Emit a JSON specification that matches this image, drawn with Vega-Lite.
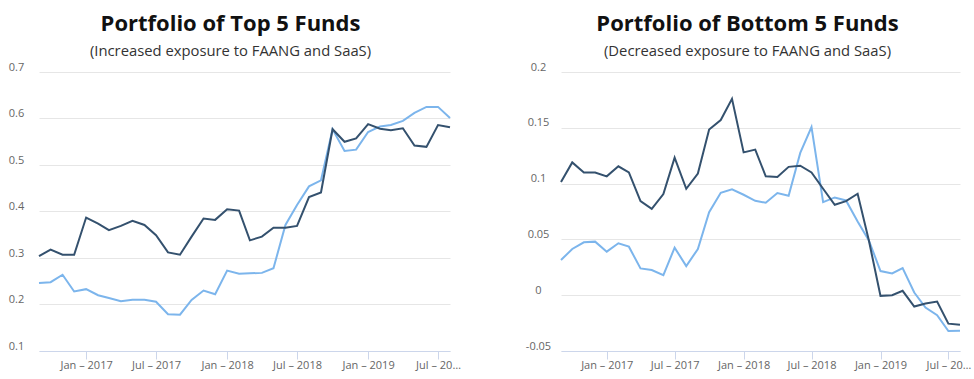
{
  "$schema": "https://vega.github.io/schema/vega-lite/v6.json",
  "background": "white",
  "padding": {"left": 8, "top": 13, "right": 4, "bottom": 4},
  "bounds": "flush",
  "spacing": 111,
  "config": {
    "view": {"stroke": null},
    "font": "Open Sans",
    "title": {"font": "Open Sans", "fontSize": 22, "fontWeight": "bold", "color": "#111111", "subtitleFont": "Open Sans", "subtitleFontSize": 14.8, "subtitleColor": "#333333", "subtitlePadding": 8, "anchor": "middle", "frame": "group", "offset": 1},
    "axis": {"labelFont": "Open Sans", "labelFontSize": 11, "labelColor": "#666666", "title": null},
    "axisX": {"grid": false, "domainColor": "#ccd6eb", "domainWidth": 1, "tickColor": "#ccd6eb", "tickSize": 8, "labelPadding": 0, "labelOverlap": false, "labelFlush": false, "labelBound": false},
    "axisY": {"grid": true, "gridColor": "#e6e6e6", "gridWidth": 1, "domain": false, "ticks": false, "tickSize": 0, "labelAlign": "center", "labelBaseline": "middle", "labelPadding": 23, "labelOffset": -5}
  },
  "datasets": {
    "top": [
      {"d": "2016-09-01", "s": "Light", "v": 0.246}, {"d": "2016-10-01", "s": "Light", "v": 0.248}, {"d": "2016-11-01", "s": "Light", "v": 0.264}, {"d": "2016-12-01", "s": "Light", "v": 0.228},
      {"d": "2017-01-01", "s": "Light", "v": 0.233}, {"d": "2017-02-01", "s": "Light", "v": 0.220}, {"d": "2017-03-01", "s": "Light", "v": 0.214}, {"d": "2017-04-01", "s": "Light", "v": 0.207},
      {"d": "2017-05-01", "s": "Light", "v": 0.210}, {"d": "2017-06-01", "s": "Light", "v": 0.210}, {"d": "2017-07-01", "s": "Light", "v": 0.206}, {"d": "2017-08-01", "s": "Light", "v": 0.179},
      {"d": "2017-09-01", "s": "Light", "v": 0.178}, {"d": "2017-10-01", "s": "Light", "v": 0.210}, {"d": "2017-11-01", "s": "Light", "v": 0.230}, {"d": "2017-12-01", "s": "Light", "v": 0.222},
      {"d": "2018-01-01", "s": "Light", "v": 0.273}, {"d": "2018-02-01", "s": "Light", "v": 0.266}, {"d": "2018-03-01", "s": "Light", "v": 0.267}, {"d": "2018-04-01", "s": "Light", "v": 0.268},
      {"d": "2018-05-01", "s": "Light", "v": 0.278}, {"d": "2018-06-01", "s": "Light", "v": 0.371}, {"d": "2018-07-01", "s": "Light", "v": 0.414}, {"d": "2018-08-01", "s": "Light", "v": 0.454},
      {"d": "2018-09-01", "s": "Light", "v": 0.467}, {"d": "2018-10-01", "s": "Light", "v": 0.577}, {"d": "2018-11-01", "s": "Light", "v": 0.530}, {"d": "2018-12-01", "s": "Light", "v": 0.533},
      {"d": "2019-01-01", "s": "Light", "v": 0.571}, {"d": "2019-02-01", "s": "Light", "v": 0.583}, {"d": "2019-03-01", "s": "Light", "v": 0.586}, {"d": "2019-04-01", "s": "Light", "v": 0.595},
      {"d": "2019-05-01", "s": "Light", "v": 0.612}, {"d": "2019-06-01", "s": "Light", "v": 0.625}, {"d": "2019-07-01", "s": "Light", "v": 0.625}, {"d": "2019-08-01", "s": "Light", "v": 0.601},
      {"d": "2016-09-01", "s": "Dark", "v": 0.304}, {"d": "2016-10-01", "s": "Dark", "v": 0.318}, {"d": "2016-11-01", "s": "Dark", "v": 0.307}, {"d": "2016-12-01", "s": "Dark", "v": 0.307},
      {"d": "2017-01-01", "s": "Dark", "v": 0.387}, {"d": "2017-02-01", "s": "Dark", "v": 0.374}, {"d": "2017-03-01", "s": "Dark", "v": 0.360}, {"d": "2017-04-01", "s": "Dark", "v": 0.369},
      {"d": "2017-05-01", "s": "Dark", "v": 0.380}, {"d": "2017-06-01", "s": "Dark", "v": 0.371}, {"d": "2017-07-01", "s": "Dark", "v": 0.349}, {"d": "2017-08-01", "s": "Dark", "v": 0.312},
      {"d": "2017-09-01", "s": "Dark", "v": 0.307}, {"d": "2017-10-01", "s": "Dark", "v": 0.346}, {"d": "2017-11-01", "s": "Dark", "v": 0.385}, {"d": "2017-12-01", "s": "Dark", "v": 0.382},
      {"d": "2018-01-01", "s": "Dark", "v": 0.405}, {"d": "2018-02-01", "s": "Dark", "v": 0.402}, {"d": "2018-03-01", "s": "Dark", "v": 0.338}, {"d": "2018-04-01", "s": "Dark", "v": 0.346},
      {"d": "2018-05-01", "s": "Dark", "v": 0.365}, {"d": "2018-06-01", "s": "Dark", "v": 0.365}, {"d": "2018-07-01", "s": "Dark", "v": 0.369}, {"d": "2018-08-01", "s": "Dark", "v": 0.431},
      {"d": "2018-09-01", "s": "Dark", "v": 0.441}, {"d": "2018-10-01", "s": "Dark", "v": 0.577}, {"d": "2018-11-01", "s": "Dark", "v": 0.550}, {"d": "2018-12-01", "s": "Dark", "v": 0.557},
      {"d": "2019-01-01", "s": "Dark", "v": 0.588}, {"d": "2019-02-01", "s": "Dark", "v": 0.578}, {"d": "2019-03-01", "s": "Dark", "v": 0.575}, {"d": "2019-04-01", "s": "Dark", "v": 0.579},
      {"d": "2019-05-01", "s": "Dark", "v": 0.542}, {"d": "2019-06-01", "s": "Dark", "v": 0.539}, {"d": "2019-07-01", "s": "Dark", "v": 0.586}, {"d": "2019-08-01", "s": "Dark", "v": 0.581}
    ],
    "bottom": [
      {"d": "2016-09-01", "s": "Light", "v": 0.0315}, {"d": "2016-10-01", "s": "Light", "v": 0.0414}, {"d": "2016-11-01", "s": "Light", "v": 0.0474}, {"d": "2016-12-01", "s": "Light", "v": 0.048},
      {"d": "2017-01-01", "s": "Light", "v": 0.039}, {"d": "2017-02-01", "s": "Light", "v": 0.0465}, {"d": "2017-03-01", "s": "Light", "v": 0.0435}, {"d": "2017-04-01", "s": "Light", "v": 0.024},
      {"d": "2017-05-01", "s": "Light", "v": 0.0225}, {"d": "2017-06-01", "s": "Light", "v": 0.018}, {"d": "2017-07-01", "s": "Light", "v": 0.0426}, {"d": "2017-08-01", "s": "Light", "v": 0.0261},
      {"d": "2017-09-01", "s": "Light", "v": 0.0414}, {"d": "2017-10-01", "s": "Light", "v": 0.0744}, {"d": "2017-11-01", "s": "Light", "v": 0.0918}, {"d": "2017-12-01", "s": "Light", "v": 0.0948},
      {"d": "2018-01-01", "s": "Light", "v": 0.090}, {"d": "2018-02-01", "s": "Light", "v": 0.0846}, {"d": "2018-03-01", "s": "Light", "v": 0.0828}, {"d": "2018-04-01", "s": "Light", "v": 0.0915},
      {"d": "2018-05-01", "s": "Light", "v": 0.0891}, {"d": "2018-06-01", "s": "Light", "v": 0.1275}, {"d": "2018-07-01", "s": "Light", "v": 0.1506}, {"d": "2018-08-01", "s": "Light", "v": 0.0834},
      {"d": "2018-09-01", "s": "Light", "v": 0.0876}, {"d": "2018-10-01", "s": "Light", "v": 0.0849}, {"d": "2018-11-01", "s": "Light", "v": 0.066}, {"d": "2018-12-01", "s": "Light", "v": 0.049},
      {"d": "2019-01-01", "s": "Light", "v": 0.0216}, {"d": "2019-02-01", "s": "Light", "v": 0.0195}, {"d": "2019-03-01", "s": "Light", "v": 0.0243}, {"d": "2019-04-01", "s": "Light", "v": 0.0024},
      {"d": "2019-05-01", "s": "Light", "v": -0.0111}, {"d": "2019-06-01", "s": "Light", "v": -0.018}, {"d": "2019-07-01", "s": "Light", "v": -0.0321}, {"d": "2019-08-01", "s": "Light", "v": -0.0318},
      {"d": "2016-09-01", "s": "Dark", "v": 0.1014}, {"d": "2016-10-01", "s": "Dark", "v": 0.119}, {"d": "2016-11-01", "s": "Dark", "v": 0.110}, {"d": "2016-12-01", "s": "Dark", "v": 0.110},
      {"d": "2017-01-01", "s": "Dark", "v": 0.1065}, {"d": "2017-02-01", "s": "Dark", "v": 0.1155}, {"d": "2017-03-01", "s": "Dark", "v": 0.110}, {"d": "2017-04-01", "s": "Dark", "v": 0.0843},
      {"d": "2017-05-01", "s": "Dark", "v": 0.0774}, {"d": "2017-06-01", "s": "Dark", "v": 0.0906}, {"d": "2017-07-01", "s": "Dark", "v": 0.1233}, {"d": "2017-08-01", "s": "Dark", "v": 0.0954},
      {"d": "2017-09-01", "s": "Dark", "v": 0.109}, {"d": "2017-10-01", "s": "Dark", "v": 0.1485}, {"d": "2017-11-01", "s": "Dark", "v": 0.157}, {"d": "2017-12-01", "s": "Dark", "v": 0.176},
      {"d": "2018-01-01", "s": "Dark", "v": 0.128}, {"d": "2018-02-01", "s": "Dark", "v": 0.1305}, {"d": "2018-03-01", "s": "Dark", "v": 0.1065}, {"d": "2018-04-01", "s": "Dark", "v": 0.106},
      {"d": "2018-05-01", "s": "Dark", "v": 0.115}, {"d": "2018-06-01", "s": "Dark", "v": 0.116}, {"d": "2018-07-01", "s": "Dark", "v": 0.110}, {"d": "2018-08-01", "s": "Dark", "v": 0.0954},
      {"d": "2018-09-01", "s": "Dark", "v": 0.081}, {"d": "2018-10-01", "s": "Dark", "v": 0.0843}, {"d": "2018-11-01", "s": "Dark", "v": 0.0909}, {"d": "2018-12-01", "s": "Dark", "v": 0.049},
      {"d": "2019-01-01", "s": "Dark", "v": -0.0006}, {"d": "2019-02-01", "s": "Dark", "v": 0.0}, {"d": "2019-03-01", "s": "Dark", "v": 0.0039}, {"d": "2019-04-01", "s": "Dark", "v": -0.0102},
      {"d": "2019-05-01", "s": "Dark", "v": -0.0075}, {"d": "2019-06-01", "s": "Dark", "v": -0.0057}, {"d": "2019-07-01", "s": "Dark", "v": -0.0255}, {"d": "2019-08-01", "s": "Dark", "v": -0.0264}
    ]
  },
  "hconcat": [
    {
      "title": {"text": "Portfolio of Top 5 Funds", "subtitle": "(Increased exposure to FAANG and SaaS)", "dx": -14},
      "width": 411,
      "height": 279,
      "data": {"name": "top"},
      "mark": {"type": "line", "strokeWidth": 2},
      "encoding": {
        "x": {
          "field": "d", "type": "temporal",
          "scale": {"type": "utc", "domain": [{"year": 2016, "month": 9, "date": 1, "utc": true}, {"year": 2019, "month": 8, "date": 1, "utc": true}]},
          "axis": {
            "values": [{"year": 2017, "month": 1, "date": 1, "utc": true}, {"year": 2017, "month": 7, "date": 1, "utc": true}, {"year": 2018, "month": 1, "date": 1, "utc": true}, {"year": 2018, "month": 7, "date": 1, "utc": true}, {"year": 2019, "month": 1, "date": 1, "utc": true}, {"year": 2019, "month": 7, "date": 1, "utc": true}],
            "labelExpr": "datum.value >= 1561939200000 ? 'Jul – 20…' : utcFormat(datum.value, '%b') + ' – ' + utcFormat(datum.value, '%Y')"
          }
        },
        "y": {
          "field": "v", "type": "quantitative",
          "scale": {"domain": [0.1, 0.7], "nice": false, "zero": false},
          "axis": {"values": [0.1, 0.2, 0.3, 0.4, 0.5, 0.6, 0.7], "labelExpr": "format(datum.value, '.1f')"}
        },
        "color": {"field": "s", "type": "nominal", "sort": ["Light", "Dark"], "scale": {"domain": ["Light", "Dark"], "range": ["#7cb5ec", "#34516e"]}, "legend": null}
      }
    },
    {
      "title": {"text": "Portfolio of Bottom 5 Funds", "subtitle": "(Decreased exposure to FAANG and SaaS)", "dx": -13},
      "width": 399,
      "height": 279,
      "data": {"name": "bottom"},
      "mark": {"type": "line", "strokeWidth": 2},
      "encoding": {
        "x": {
          "field": "d", "type": "temporal",
          "scale": {"type": "utc", "domain": [{"year": 2016, "month": 9, "date": 1, "utc": true}, {"year": 2019, "month": 8, "date": 1, "utc": true}]},
          "axis": {
            "values": [{"year": 2017, "month": 1, "date": 1, "utc": true}, {"year": 2017, "month": 7, "date": 1, "utc": true}, {"year": 2018, "month": 1, "date": 1, "utc": true}, {"year": 2018, "month": 7, "date": 1, "utc": true}, {"year": 2019, "month": 1, "date": 1, "utc": true}, {"year": 2019, "month": 7, "date": 1, "utc": true}],
            "labelExpr": "datum.value >= 1561939200000 ? 'Jul – 20…' : utcFormat(datum.value, '%b') + ' – ' + utcFormat(datum.value, '%Y')"
          }
        },
        "y": {
          "field": "v", "type": "quantitative",
          "scale": {"domain": [-0.05, 0.2], "nice": false, "zero": false},
          "axis": {"values": [-0.05, 0, 0.05, 0.1, 0.15, 0.2], "labelExpr": "datum.value < -0.001 ? '-' + format(-datum.value, '~g') : format(datum.value, '~g')"}
        },
        "color": {"field": "s", "type": "nominal", "sort": ["Light", "Dark"], "scale": {"domain": ["Light", "Dark"], "range": ["#7cb5ec", "#34516e"]}, "legend": null}
      }
    }
  ]
}
